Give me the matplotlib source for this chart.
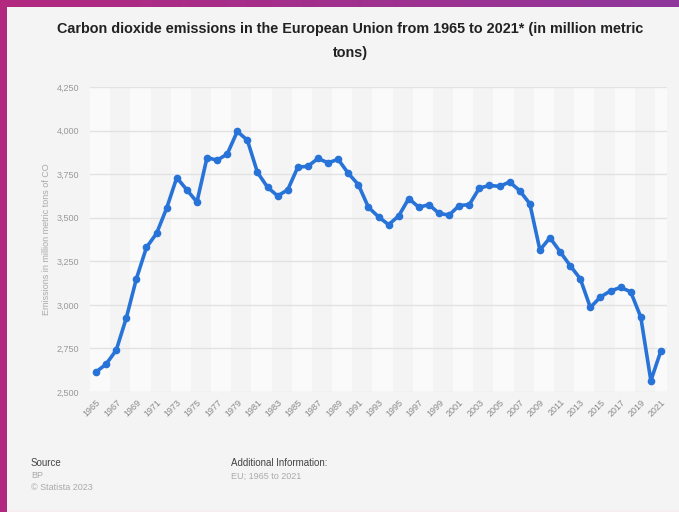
import matplotlib
matplotlib.use("Agg")
import matplotlib.pyplot as plt
import numpy as np

plt.rcParams['font.family'] = ['Liberation Sans', 'DejaVu Sans']

years = list(range(1965, 2022))
emissions = [
    2615, 2660, 2740, 2925, 3150, 3330, 3410, 3555, 3730, 3660,
    3590, 3845, 3830, 3865, 3995, 3945, 3760, 3675, 3625, 3660,
    3790, 3795, 3840, 3815, 3835, 3755, 3690, 3560, 3505, 3460,
    3510, 3610, 3560, 3575, 3525, 3515, 3570, 3575, 3670, 3685,
    3680, 3705, 3655, 3580, 3315, 3385, 3305, 3225, 3150, 2985,
    3045, 3080, 3100, 3075, 2930, 2565, 2737,
]
y_ticks = [2500, 2750, 3000, 3250, 3500, 3750, 4000, 4250]
x_ticks = list(range(1965, 2022, 2))

title = "Carbon dioxide emissions in the European Union from 1965 to 2021* (in million metric\ntons)"
ylabel = "Emissions in million metric tons of CO"

fig = plt.figure(figsize=(6.79, 5.12), dpi=100)
fig.patch.set_facecolor("#f4f4f4")

# frame: magenta strip on the left, gradient strip along the top
frame = fig.add_axes([0, 0, 1, 1], zorder=-10)
frame.axis("off")
grad = np.linspace(0, 1, 256).reshape(1, -1)
top_cmap = matplotlib.colors.LinearSegmentedColormap.from_list("top", ["#b3287f", "#8f379c"])
frame.imshow(grad, cmap=top_cmap, extent=[0, 679, 7, 0], aspect="auto")
frame.add_patch(plt.Rectangle((0, 0), 7, 512, color="#b3287f", lw=0))
frame.add_patch(plt.Rectangle((7, 510), 672, 2, color="#f7eef4", lw=0))
frame.set_xlim(0, 679)
frame.set_ylim(512, 0)

ax = fig.add_axes([90 / 679, 1 - 392 / 512, 577 / 679, 305 / 512])
ax.set_facecolor("#f4f4f4")

# alternating column bands, two years wide
for i, start in enumerate(np.arange(1964.4, 2021.6, 2)):
    col = "#fafafa" if i % 2 == 0 else "#f4f4f4"
    ax.axvspan(start, min(start + 2, 2021.6), color=col, lw=0, zorder=0)

for t in y_ticks:
    ax.axhline(t, color="#e2e2e2", lw=1, zorder=1)

ax.plot(years, emissions, color="#2873d8", lw=2.6, marker="o", ms=4.5,
        solid_joinstyle="round", zorder=3, clip_on=False)

ax.set_xlim(1964.4, 2021.6)
ax.set_ylim(2500, 4250)
ax.set_yticks(y_ticks)
ax.set_yticklabels([f"{t:,}" for t in y_ticks], fontsize=6.5, color="#999999")
ax.set_xticks(x_ticks)
ax.set_xticklabels([str(y) for y in x_ticks], fontsize=6.5, color="#888888",
                   rotation=45, ha="right", rotation_mode="anchor")
ax.tick_params(axis="both", length=0, pad=8)
ax.tick_params(axis="x", pad=4)
for s in ax.spines.values():
    s.set_visible(False)

ax.set_ylabel(ylabel, fontsize=6.5, color="#aaaaaa", labelpad=4)

fig.text(350 / 679, 1 - 41 / 512, title, ha="center", va="center",
         fontsize=10.4, fontweight="bold", color="#222222", linespacing=1.85)

fig.text(31 / 679, 1 - 463 / 512, "Source", fontsize=7, color="#444444", va="center")
fig.text(31 / 679, 1 - 476 / 512, "BP", fontsize=6.5, color="#aaaaaa", va="center")
fig.text(31 / 679, 1 - 488 / 512, "\u00a9 Statista 2023", fontsize=6.5, color="#aaaaaa", va="center")
fig.text(231 / 679, 1 - 463 / 512, "Additional Information:", fontsize=7, color="#444444", va="center")
fig.text(231 / 679, 1 - 476 / 512, "EU; 1965 to 2021", fontsize=6.5, color="#aaaaaa", va="center")

fig.savefig("out.png", dpi=100, facecolor=fig.get_facecolor())
